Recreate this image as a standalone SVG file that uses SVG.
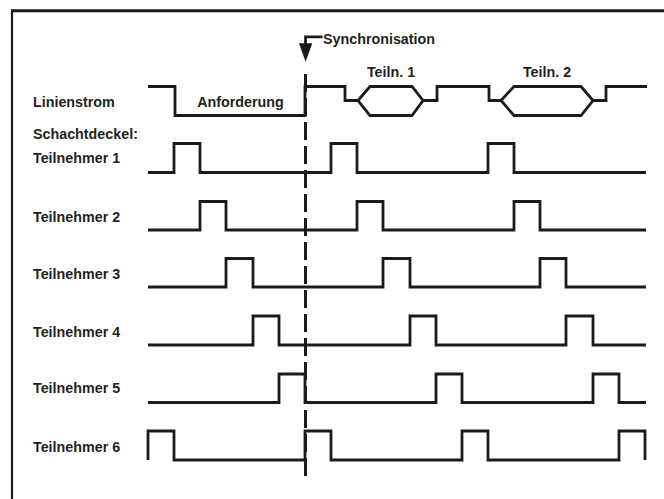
<svg xmlns="http://www.w3.org/2000/svg" width="664" height="499" viewBox="0 0 664 499">
<style>
.sig{fill:none;stroke:#1e1a1b;stroke-width:2.8;stroke-linejoin:miter;stroke-linecap:butt}
.lbl{font-family:"Liberation Sans",Arial,sans-serif;font-weight:bold;font-size:14.3px;fill:#231f20}
.frame{fill:none;stroke:#1e1a1b}
</style>
<rect width="664" height="499" fill="#ffffff"/>
<g id="frame">
<line class="frame" x1="11" y1="10.8" x2="664" y2="10.8" stroke-width="3"/>
<line class="frame" x1="12" y1="10" x2="12" y2="499" stroke-width="2.2"/>
</g>
<g id="labels">
<text class="lbl" x="33" y="106.5">Linienstrom</text>
<text class="lbl" x="240.5" y="106.5" text-anchor="middle">Anforderung</text>
<text class="lbl" x="33" y="139.3">Schachtdeckel:</text>
<text class="lbl" x="33" y="163.3">Teilnehmer 1</text>
<text class="lbl" x="33" y="221.7">Teilnehmer 2</text>
<text class="lbl" x="33" y="279">Teilnehmer 3</text>
<text class="lbl" x="33" y="336.7">Teilnehmer 4</text>
<text class="lbl" x="33" y="393.3">Teilnehmer 5</text>
<text class="lbl" x="33" y="451.7">Teilnehmer 6</text>
<text class="lbl" x="391" y="77.3" text-anchor="middle">Teiln. 1</text>
<text class="lbl" x="547" y="77.3" text-anchor="middle">Teiln. 2</text>
<text class="lbl" x="323" y="43.8">Synchronisation</text>
</g>
<g id="linienstrom">
<path class="sig" d="M148 86.5 H175 V115.5 H305 V86.5 H345 V100.5 H358 M423 100.5 H437 V86.5 H489 V100.5 H501 M593 100.5 H606 V86.5 H647"/>
<path class="sig" d="M358 100.5 L370 86.5 H412 L423 100.5 L412 115.5 H370 Z"/>
<path class="sig" d="M501 100.5 L514 86.5 H581 L593 100.5 L581 115.5 H514 Z"/>
</g>
<g id="teilnehmer1"><path class="sig" d="M148 172.5 H174 V143.5 H200 V172.5 H331 V143.5 H357 V172.5 H488 V143.5 H514 V172.5 H646"/></g>
<g id="teilnehmer2"><path class="sig" d="M148 230 H200 V201.5 H226 V230 H357 V201.5 H383 V230 H514 V201.5 H540 V230 H646"/></g>
<g id="teilnehmer3"><path class="sig" d="M148 287 H226 V258.5 H253 V287 H383 V258.5 H410 V287 H540 V258.5 H566 V287 H646"/></g>
<g id="teilnehmer4"><path class="sig" d="M148 345 H253 V316 H279 V345 H410 V316 H436 V345 H566 V316 H593 V345 H646"/></g>
<g id="teilnehmer5"><path class="sig" d="M148 402.5 H279 V374 H305 V402.5 H436 V374 H462 V402.5 H593 V374 H619 V402.5 H646"/></g>
<g id="teilnehmer6"><path class="sig" d="M148 460 V431 H174 V460 H305 V431 H331 V460 H462 V431 H488 V460 H619 V431 H645 V460"/></g>
<g id="connectors">
<path class="sig" d="M322.5 36.8 H305.5 V46"/>
<polygon points="299,43.3 312.3,43.3 305.6,61.7" fill="#1e1a1b"/>
<line x1="305.5" y1="74" x2="305.5" y2="478" stroke="#1e1a1b" stroke-width="3" stroke-dasharray="18 6"/>
</g>
</svg>
